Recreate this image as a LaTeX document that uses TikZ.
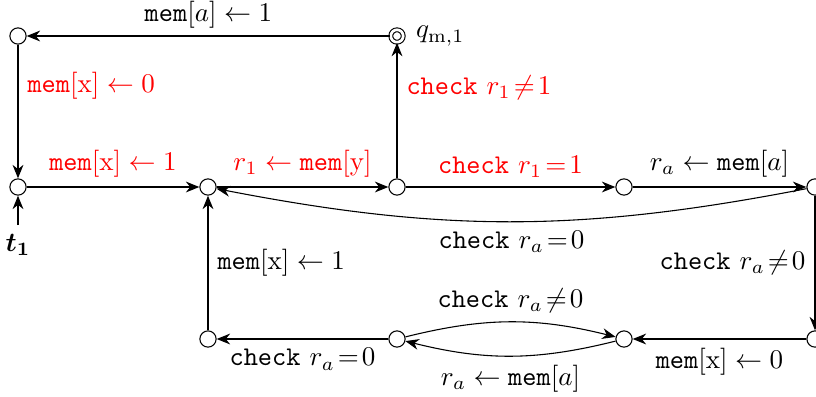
\documentclass[tikz,border=0pt]{standalone}
\usepackage{amsmath, amssymb}
\usetikzlibrary{arrows.meta}
\definecolor{guard}{HTML}{FF0000}
\newcommand{\memop}{\texttt{mem}}
\newcommand{\chkop}{\texttt{check}}

\begin{document}
\begin{tikzpicture}[>={Stealth[length=5pt,width=4pt]},
    loc/.style={circle, draw, inner sep=0pt, minimum size=6pt},
    accloc/.style={loc, double, double distance=1pt, minimum size=4.6pt},
    red lbl/.style={color=guard}]
  \useasboundingbox (0,0) rectangle (10.608,5.148);
  % locations
  \node[loc] (init) at (0.234,2.717) {};
  \node[loc] (wx) at (0.234,4.68) {};
  \node[accloc, label={[label distance=1pt]right:$q_{\mathrm{m},1}$}] (qm) at (5.161,4.68) {};
  \node[loc] (ry) at (2.704,2.717) {};
  \node[loc] (chk) at (5.161,2.717) {};
  \node[loc] (ra) at (8.112,2.717) {};
  \node[loc] (rb) at (10.595,2.717) {};
  \node[loc] (wb) at (10.595,0.741) {};
  \node[loc] (lp) at (8.112,0.741) {};
  \node[loc] (lq) at (5.161,0.741) {};
  \node[loc] (wy) at (2.704,0.741) {};
  \node (tone) at (0.234,1.96) {$\boldsymbol{t_1}$};
  % transitions
  \draw[->] (tone) -- (init);
  \draw[->] (qm) -- node[above, yshift=-0.5pt] {$\memop[a] \leftarrow 1$} (wx);
  \draw[->] (wx) -- node[pos=0.31, right, red lbl] {$\memop[\mathrm{x}] \leftarrow 0$} (init);
  \draw[->] (init) -- node[above, red lbl] {$\memop[\mathrm{x}] \leftarrow 1$} (ry);
  \draw[->] (ry) -- node[above, red lbl] {$r_1 \leftarrow \memop[\mathrm{y}]$} (chk);
  \draw[->] (chk) -- node[pos=0.67, right, red lbl] {\chkop{} $r_1\!\neq\!1$} (qm);
  \draw[->] (chk) -- node[above, red lbl] {\chkop{} $r_1\!=\!1$} (ra);
  \draw[->] (ra) -- node[above] {$r_a \leftarrow \memop[a]$} (rb);
  \draw[->] (rb) to[bend left=11] node[below] {\chkop{} $r_a\!=\!0$} (ry);
  \draw[->] (rb) -- node[left] {\chkop{} $r_a\!\neq\!0$} (wb);
  \draw[->] (wb) -- node[below] {$\memop[\mathrm{x}] \leftarrow 0$} (lp);
  \draw[->] (lp) to[bend left=14] node[below] {$r_a \leftarrow \memop[a]$} (lq);
  \draw[->] (lq) to[bend left=14] node[above] {\chkop{} $r_a\!\neq\!0$} (lp);
  \draw[->] (lq) -- node[below] {\chkop{} $r_a\!=\!0$} (wy);
  \draw[->] (wy) -- node[right] {$\memop[\mathrm{x}] \leftarrow 1$} (ry);
\end{tikzpicture}
\end{document}
